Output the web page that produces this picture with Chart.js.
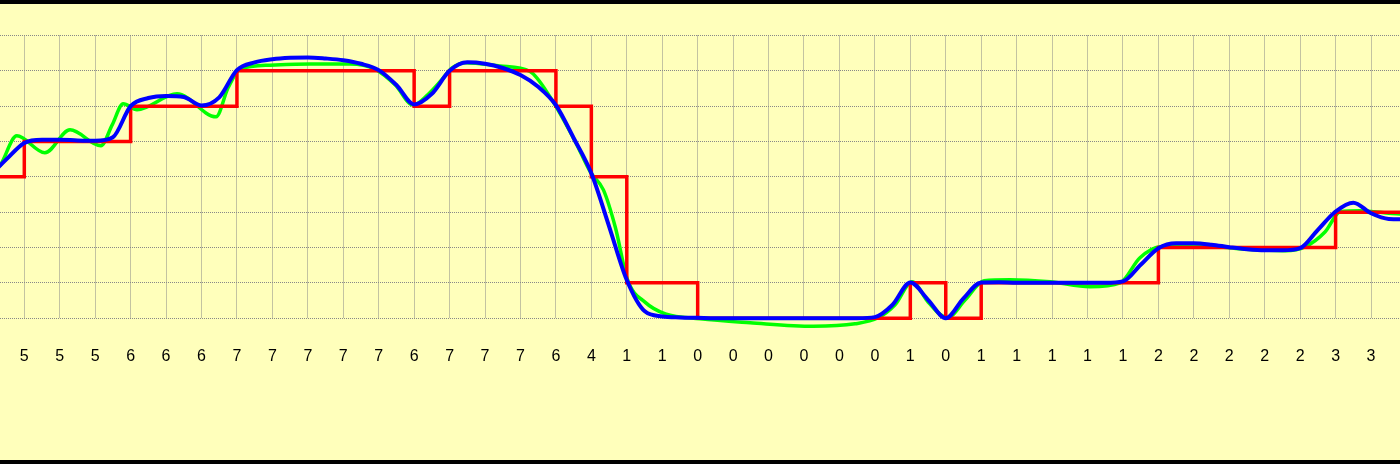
<!DOCTYPE html>
<html>
<head>
<meta charset="utf-8">
<script src="https://cdn.jsdelivr.net/npm/chart.js@4.4.1/dist/chart.umd.min.js"></script>
<style>
  html,body{margin:0;padding:0;background:#000;}
  #wrap{position:absolute;left:0;top:4px;width:1400px;height:456px;background:#ffffbb;}
  canvas{display:block;}
</style>
</head>
<body>
<div id="wrap"><canvas id="grafico" width="1400" height="456"></canvas></div>
<script>
// --- DATI ---
// index 0 and 40 sit just outside the visible range
const tickLabels = ['4','5','5','5','6','6','6','7','7','7','7','7','6','7','7','7','6','4','1','1',
  '0','0','0','0','0','0','1','0','1','1','1','1','1','2','2','2','2','2','3','3','3'];
const stepValues = [4,5,5,5,6,6,6,7,7,7,7,7,6,7,7,7,6,4,1,1,
  0,0,0,0,0,0,1,0,1,1,1,1,1,2,2,2,2,2,3,3,3];

// blue curve, read every half step (index 0, 0.5, 1 ... 40)
const blueValues = [
  4.0, 4.5, 4.96, 5.05, 5.05, 5.03, 5.02, 5.12, 6.0, 6.23,
  6.29, 6.26, 6.02, 6.25, 7.02, 7.24, 7.33, 7.37, 7.38, 7.35,
  7.3, 7.2, 7.02, 6.6, 6.05, 6.35, 7.0, 7.24, 7.2, 7.08,
  6.88, 6.55, 6.03, 5.1, 4.1, 2.6, 1.08, 0.2, 0.05, 0.02,
  0.01, 0, 0, 0, 0, 0, 0, 0, 0, 0,
  0.03, 0.38, 1.01, 0.52, 0.0, 0.56, 1.01, 1.02, 1.0, 1.0,
  1.0, 1.0, 1.0, 1.0, 1.04, 1.51, 1.98, 2.12, 2.12, 2.08,
  2.01, 1.95, 1.92, 1.92, 1.98, 2.5, 3.02, 3.27, 2.97, 2.81,
  2.8
];

// green curve, read at its bends
const greenPos = [0, 0.31, 0.79, 1.58, 2.29, 3.16, 3.48, 3.79, 4.18, 5.31,
  6.41, 6.75, 7.09, 7.93, 9.06, 10.19, 10.89, 11.47, 11.97, 12.39,
  12.73, 13.07, 13.44, 14.42, 15.27, 15.83, 16.55, 16.97, 17.34, 17.68,
  18.02, 18.53, 19.09, 20.07, 21.48, 23.26, 24.44, 25.09, 25.57, 26.05,
  26.5, 27.04, 27.55, 28.08, 28.81, 29.94, 31.07, 31.92, 32.48, 33.05,
  34.18, 35.59, 36.58, 37.14, 37.7, 38.13, 38.69, 39.82, 40];
const greenValues = [4.03, 4.31, 5.16, 4.68, 5.33, 4.88, 5.47, 6.07, 5.9, 6.35,
  5.7, 6.52, 7.05, 7.16, 7.19, 7.19, 7.05, 6.6, 6.03, 6.33,
  6.69, 7.08, 7.23, 7.14, 6.98, 6.27, 4.99, 4.14, 3.63, 2.56,
  1.09, 0.44, 0.12, -0.02, -0.13, -0.23, -0.16, 0.01, 0.38, 1.03,
  0.46, 0.01, 0.52, 1.06, 1.09, 1.03, 0.89, 1.0, 1.71, 2.02,
  2.05, 1.94, 1.91, 2.02, 2.44, 3.01, 3.04, 2.95, 2.95];

const X_MIN = 0.3143;
const X_MAX = 39.817;

// --- GRAFICO ---
const borderOpts = {display:false, dash:[1,1]};

const ctx = document.getElementById('grafico').getContext('2d');
const chart = new Chart(ctx, {
  type:'line',
  data:{
    datasets:[
      {
        label:'blue',
        data: blueValues.map((v,k)=>({x:k/2, y:v})),
        borderColor:'#0000ff',
        borderWidth:4,
        cubicInterpolationMode:'monotone',
        clip:false
      },
      {
        label:'red',
        data: stepValues.map((v,i)=>({x:i, y:v})),
        borderColor:'#ff0000',
        borderWidth:3.5,
        stepped:true,
        borderJoinStyle:'miter',
        clip:false
      },
      {
        label:'green',
        data: greenPos.map((p,i)=>({x:p, y:greenValues[i]})),
        borderColor:'#00ff00',
        borderWidth:3.5,
        cubicInterpolationMode:'monotone',
        clip:false
      }
    ]
  },
  options:{
    responsive:false,
    animation:false,
    layout:{autoPadding:false, padding:{top:31.5, left:0, right:0, bottom:0}},
    plugins:{legend:{display:false}, tooltip:{enabled:false}},
    elements:{point:{radius:0}, line:{capBezierPoints:false}},
    scales:{
      x:{
        type:'linear', min:X_MIN, max:X_MAX,
        // invisible tick marks push the labels down without side padding
        grid:{color:'#888', drawTicks:true, tickLength:29, tickColor:'rgba(0,0,0,0)'},
        border:borderOpts,
        ticks:{
          stepSize:1, includeBounds:false, autoSkip:false, maxRotation:0,
          padding:0, color:'#000',
          font:{family:'"Liberation Sans", Arial, sans-serif', size:16},
          callback:v=>tickLabels[v] ?? ''
        },
        afterFit:s=>{ s.height = 141.83; }
      },
      y:{
        min:0, max:8,
        grid:{color:'#888', drawTicks:false},
        border:borderOpts,
        ticks:{display:false, stepSize:1},
        afterFit:s=>{ s.width = 0; }
      }
    }
  }
});
</script>
</body>
</html>
